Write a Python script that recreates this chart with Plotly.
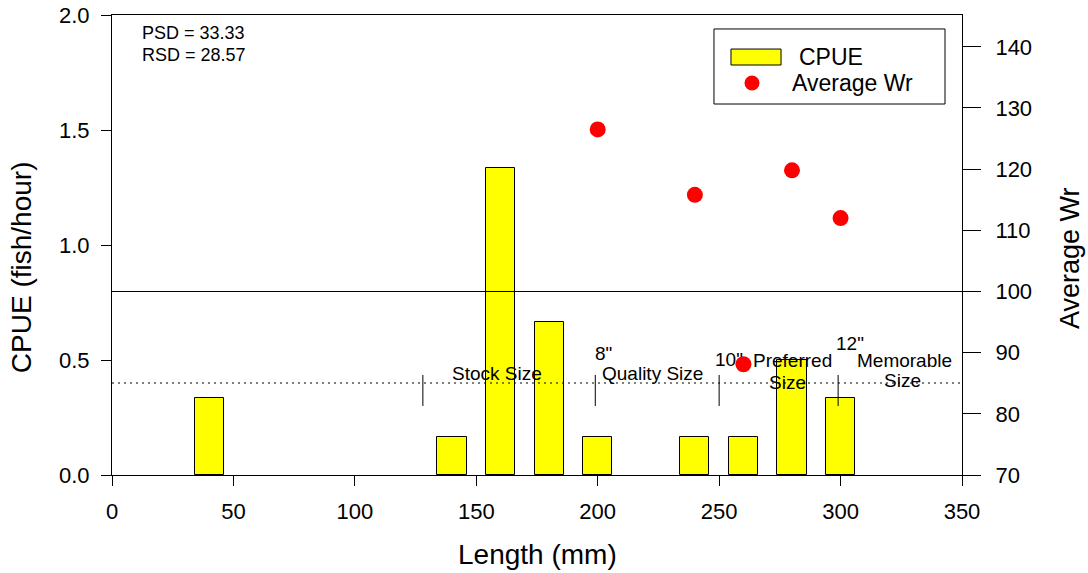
import plotly.graph_objects as go

# ---- data ----
length_mm = [40, 140, 160, 180, 200, 240, 260, 280, 300]
cpue = [0.3333, 0.1667, 1.3333, 0.6667, 0.1667, 0.1667, 0.1667, 0.5, 0.3333]
wr_length = [200, 240, 260, 280, 300]
avg_wr = [126.5, 115.8, 88.1, 119.8, 112.0]
size_marks_mm = [128, 199, 250, 299]
size_labels = ["Stock Size", "8\"", "Quality Size", "10\"", "Preferred", "Size", "12\"", "Memorable", "Size"]
size_label_x = [158.5, 202.2, 222.5, 254.0, 280.0, 278.0, 304.0, 326.5, 325.3]
size_label_y = [0.443, 0.530, 0.443, 0.504, 0.500, 0.404, 0.570, 0.500, 0.409]
psd_lines = ["PSD = 33.33", "RSD = 28.57"]
x_ticks = [0, 50, 100, 150, 200, 250, 300, 350]
cpue_ticks = [0.0, 0.5, 1.0, 1.5, 2.0]
wr_ticks = [70, 80, 90, 100, 110, 120, 130, 140]
wr_ref = 100
cpue_ref = 0.4

FONT = "Liberation Sans, Arial, sans-serif"
BLACK = "black"

fig = go.Figure()
fig.add_trace(go.Bar(
    x=length_mm, y=cpue, width=12, name="CPUE",
    marker=dict(color="#ffff00", line=dict(color=BLACK, width=1)),
    yaxis="y"))
fig.add_trace(go.Scatter(
    x=wr_length, y=avg_wr, mode="markers", name="Average Wr",
    marker=dict(color="#ff0000", size=16), yaxis="y2"))

shapes = []
shapes.append(dict(type="line", xref="x", yref="y2", x0=0, x1=350, y0=wr_ref, y1=wr_ref,
                   line=dict(color=BLACK, width=1)))
shapes.append(dict(type="line", xref="x", yref="y", x0=0, x1=350, y0=cpue_ref, y1=cpue_ref,
                   line=dict(color=BLACK, width=1, dash="2px,4px")))
for m in size_marks_mm:
    shapes.append(dict(type="line", xref="x", yref="y", x0=m, x1=m, y0=0.30, y1=0.435,
                       line=dict(color=BLACK, width=1)))

# legend (drawn manually to match the reference layout)
shapes.append(dict(type="rect", xref="paper", yref="paper", x0=0.7082, x1=0.98, y0=0.8065, y1=0.9696,
                   line=dict(color=BLACK, width=1), fillcolor="white"))
shapes.append(dict(type="rect", xref="paper", yref="paper", x0=0.7282, x1=0.7871, y0=0.8913, y1=0.926,
                   line=dict(color=BLACK, width=1), fillcolor="#ffff00"))
shapes.append(dict(type="circle", xref="paper", yref="paper", x0=0.7441, x1=0.7618, y0=0.8359, y1=0.8685,
                   line=dict(color="#ff0000", width=0), fillcolor="#ff0000"))

def ann(text, x, y, size, xref="paper", yref="paper", xanchor="center", yanchor="middle", angle=0):
    return dict(text=text, x=x, y=y, xref=xref, yref=yref, xanchor=xanchor, yanchor=yanchor,
                textangle=angle, showarrow=False, font=dict(family=FONT, size=size, color=BLACK))

annotations = []
for t, x, y in zip(size_labels, size_label_x, size_label_y):
    annotations.append(ann(t, x, y, 19, xref="x", yref="y"))
for t, y in zip(psd_lines, [0.9598, 0.9130]):
    annotations.append(ann(t, 0.0329, y, 18, xanchor="left"))
annotations.append(ann("CPUE", 0.8059, 0.9087, 23, xanchor="left"))
annotations.append(ann("Average Wr", 0.7976, 0.8522, 23, xanchor="left"))
# axis titles
annotations.append(ann("Length (mm)", 0.5, -0.1739, 28))
annotations.append(ann("CPUE (fish/hour)", -0.107, 0.452, 28, angle=-90))
annotations.append(ann("Average Wr", 1.1271, 0.4717, 27, angle=-90))

fig.update_layout(
    width=1088, height=573,
    margin=dict(l=112, r=126, t=15, b=98, pad=0),
    plot_bgcolor="white", paper_bgcolor="white",
    font=dict(family=FONT, size=22, color=BLACK),
    bargap=0, showlegend=False,
    shapes=shapes, annotations=annotations,
    xaxis=dict(range=[0, 350], tickvals=x_ticks, automargin=False,
               showline=True, linecolor=BLACK, linewidth=1, mirror=True,
               ticks="outside", ticklen=10, tickcolor=BLACK, showgrid=False, zeroline=False,
               ticklabelstandoff=7),
    yaxis=dict(range=[0, 2.0], tickvals=cpue_ticks, tickformat=".1f", automargin=False,
               showline=True, linecolor=BLACK, linewidth=1,
               ticks="outside", ticklen=10, tickcolor=BLACK, showgrid=False, zeroline=False,
               ticklabelstandoff=7),
    yaxis2=dict(range=[70, 145.2], tickvals=wr_ticks, automargin=False,
                overlaying="y", side="right", anchor="x",
                showline=True, linecolor=BLACK, linewidth=1,
                ticks="outside", ticklen=18, tickcolor=BLACK, showgrid=False, zeroline=False,
                ticklabelstandoff=10),
)

fig.write_html("out.html")
